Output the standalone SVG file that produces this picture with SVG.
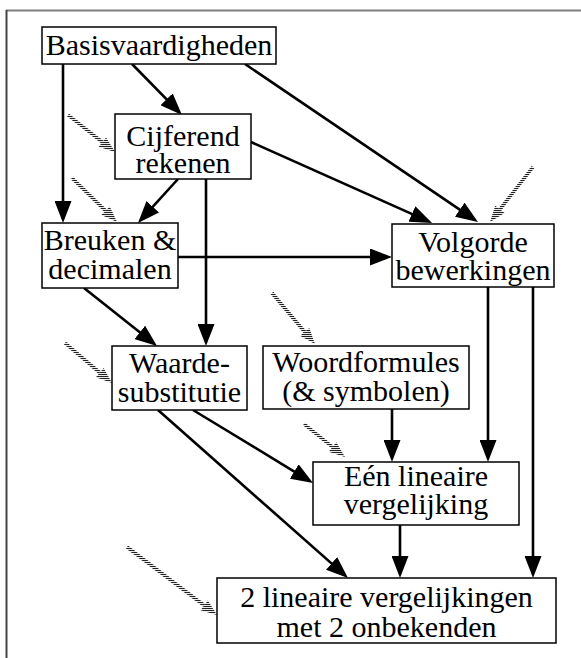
<svg xmlns="http://www.w3.org/2000/svg" width="581" height="658" viewBox="0 0 581 658">
<style>
.box{fill:#fff;stroke:#000;stroke-width:1.5}
.lbl{font-family:"Liberation Serif","Times New Roman",serif;font-size:30px;fill:#000;text-anchor:middle}
.edge{stroke:#000;stroke-width:2.6;fill:none;marker-end:url(#ah)}
.hshaft{stroke:url(#hatch);stroke-width:3.5;fill:none}
.hhead{fill:url(#hatch)}
</style>
<defs>
<marker id="ah" viewBox="0 0 22 17" refX="12" refY="8.5" markerWidth="22" markerHeight="17" markerUnits="userSpaceOnUse" orient="auto">
<path d="M0,0 L22,8.5 L0,17 Z" fill="#000"/>
</marker>
<pattern id="hatch" patternUnits="userSpaceOnUse" width="4" height="2">
<rect width="4" height="1.1" fill="#222"/>
</pattern>
</defs>
<rect width="581" height="658" fill="#fff"/>
<line x1="6" y1="10.5" x2="581" y2="10.5" stroke="#808080" stroke-width="2"/>
<line x1="6.5" y1="10" x2="6.5" y2="658" stroke="#444" stroke-width="2"/>

<g id="connectors">
<line class="edge" x1="132" y1="64" x2="175" y2="107.9"/>
<line class="edge" x1="63" y1="64" x2="63" y2="213"/>
<line class="edge" x1="245" y1="64" x2="469.7" y2="216.4"/>
<line class="edge" x1="251" y1="142" x2="422.9" y2="218.9"/>
<line class="edge" x1="178" y1="179" x2="144.7" y2="215.6"/>
<line class="edge" x1="206" y1="179" x2="206" y2="336"/>
<line class="edge" x1="167" y1="257" x2="382" y2="257"/>
<line class="edge" x1="84" y1="288" x2="149.2" y2="339.8"/>
<line class="edge" x1="488" y1="287" x2="488" y2="452"/>
<line class="edge" x1="533" y1="287" x2="533" y2="568"/>
<line class="edge" x1="392" y1="409" x2="392" y2="452"/>
<line class="edge" x1="193" y1="410" x2="304.5" y2="477.8"/>
<line class="edge" x1="158" y1="410" x2="340.5" y2="571.4"/>
<line class="edge" x1="400" y1="525" x2="400" y2="568"/>
</g>

<g id="hatched-arrows">
<line class="hshaft" x1="68" y1="115" x2="102.4" y2="142.1"/>
<polygon class="hhead" points="115,152 98.7,146.8 106.1,137.4"/>
<line class="hshaft" x1="72" y1="178" x2="105.6" y2="210.8"/>
<polygon class="hhead" points="117,222 101.4,215.1 109.8,206.5"/>
<line class="hshaft" x1="533" y1="167" x2="499.9" y2="209.4"/>
<polygon class="hhead" points="490,222 495.2,205.7 504.6,213.1"/>
<line class="hshaft" x1="272" y1="293" x2="304.7" y2="331.8"/>
<polygon class="hhead" points="315,344 300.1,335.7 309.3,327.9"/>
<line class="hshaft" x1="65" y1="343" x2="99.8" y2="372.6"/>
<polygon class="hhead" points="112,383 95.9,377.2 103.7,368"/>
<line class="hshaft" x1="304" y1="424" x2="332.5" y2="447"/>
<polygon class="hhead" points="345,457 328.7,451.7 336.3,442.3"/>
<line class="hshaft" x1="127" y1="547" x2="204.2" y2="605.4"/>
<polygon class="hhead" points="217,615 200.6,610.2 207.8,600.6"/>
</g>

<g id="basisvaardigheden">
<rect class="box" x="42" y="27" width="234" height="37"/>
<text class="lbl" x="159" y="55">Basisvaardigheden</text>
</g>
<g id="cijferend">
<rect class="box" x="115" y="114" width="136" height="65"/>
<text class="lbl" x="183" y="146">Cijferend</text>
<text class="lbl" x="183" y="173">rekenen</text>
</g>
<g id="breuken">
<rect class="box" x="42" y="223" width="136" height="65"/>
<text class="lbl" x="110" y="250">Breuken &amp;</text>
<text class="lbl" x="110" y="279">decimalen</text>
</g>
<g id="volgorde">
<rect class="box" x="392" y="224" width="162" height="63"/>
<text class="lbl" x="473" y="252">Volgorde</text>
<text class="lbl" x="473" y="280">bewerkingen</text>
</g>
<g id="waarde">
<rect class="box" x="112" y="346" width="135" height="64"/>
<text class="lbl" x="179.5" y="373">Waarde-</text>
<text class="lbl" x="179.5" y="402">substitutie</text>
</g>
<g id="woordformules">
<rect class="box" x="263" y="346" width="206" height="63"/>
<text class="lbl" x="366" y="372">Woordformules</text>
<text class="lbl" x="366" y="401">(&amp; symbolen)</text>
</g>
<g id="een-lineaire">
<rect class="box" x="313" y="462" width="206" height="63"/>
<text class="lbl" x="416" y="486">Eén lineaire</text>
<text class="lbl" x="416" y="514">vergelijking</text>
</g>
<g id="twee-lineaire">
<rect class="box" x="217" y="578" width="339" height="65"/>
<text class="lbl" x="386.5" y="607">2 lineaire vergelijkingen</text>
<text class="lbl" x="386.5" y="637">met 2 onbekenden</text>
</g>
</svg>
